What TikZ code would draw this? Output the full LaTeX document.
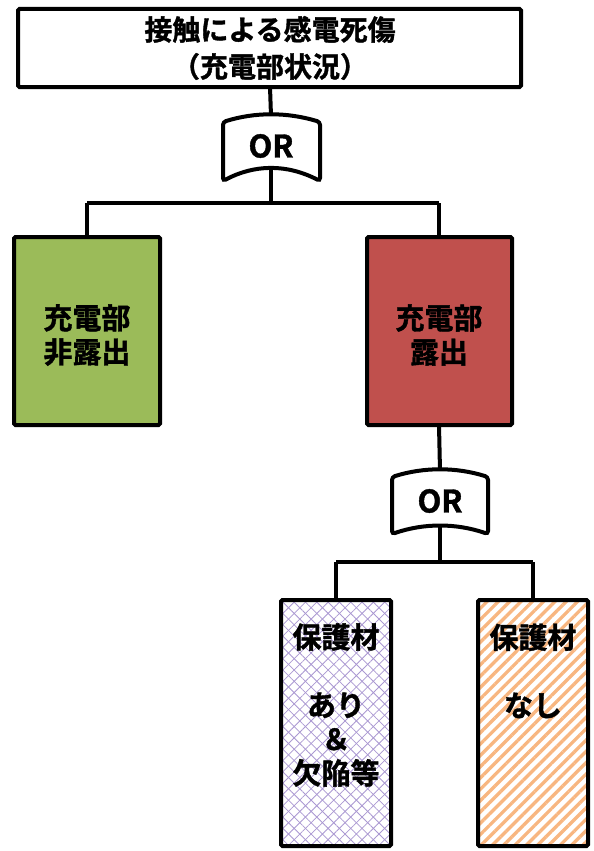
\documentclass[tikz,border=0pt]{standalone}
\usepackage{fontspec}
\newfontfamily\jp[BoldFont=* Bold, BoldFeatures={FakeBold=1.3}]{Noto Sans CJK JP}
\usetikzlibrary{patterns.meta}
\definecolor{okgreen}{RGB}{155,187,89}
\definecolor{ngred}{RGB}{192,80,77}
\definecolor{hatchpurple}{RGB}{170,152,210}
\definecolor{stripeorange}{RGB}{248,182,128}
\tikzset{
  box/.style={draw=black, line width=4pt, rounded corners=1.5pt},
  txt/.style={font=\jp\bfseries\fontsize{29}{34}\selectfont, align=center, text=black, inner sep=0pt},
  ortxt/.style={font=\jp\bfseries\fontsize{31}{31}\selectfont, text=black, inner sep=0pt},
  wire/.style={draw=black, line width=4pt, line join=round},
  gate/.style={draw=black, line width=4pt, fill=white, rounded corners=3pt},
}
\begin{document}
\begin{tikzpicture}[x=1pt,y=-1pt]
\useasboundingbox (0,0) rectangle (594,851);
% coordinates
\coordinate (topB) at (270,87);
\coordinate (g1top) at (271,116);
\coordinate (g1bot) at (271,169);
\coordinate (j1) at (271,203);
\coordinate (j1l) at (87,203);
\coordinate (j1r) at (439,203);
\coordinate (g2top) at (440,471);
\coordinate (g2bot) at (440,526);
\coordinate (j2) at (440,562);
\coordinate (j2l) at (336,562);
\coordinate (j2r) at (533,562);
% connectors
\draw[wire] (topB) -- (g1top);
\draw[wire] (g1bot) -- (j1);
\draw[wire] (j1l |- j1) -- (j1r);
\draw[wire] (j1l) -- (87,237);
\draw[wire] (j1r) -- (439,237);
\draw[wire] (439,425) -- (g2top);
\draw[wire] (g2bot) -- (j2);
\draw[wire] (j2l) -- (j2r);
\draw[wire] (j2l) -- (336,600);
\draw[wire] (j2r) -- (533,600);
% top box
\draw[box, fill=white] (18,9) rectangle (521,87);
\node[txt, font=\jp\bfseries\fontsize{28}{37}\selectfont] (top) at (270,48) {接触による感電死傷\\（充電部状況）};
% OR gate 1
\draw[gate] (223,181) -- (223,122) .. controls (255,112) and (287,112) .. (320,122) -- (320,181) .. controls (287,164) and (255,164) .. cycle;
\node[ortxt] (or1) at (271,146) {OR};
% green / red boxes
\draw[box, fill=okgreen] (14,237) rectangle (160,425);
\node[txt] (nonexp) at (87,335) {充電部\\非露出};
\draw[box, fill=ngred] (367,237) rectangle (512,425);
\node[txt] (exp) at (439,335) {充電部\\露出};
% OR gate 2
\draw[gate] (392,534) -- (392,477) .. controls (424,467) and (456,467) .. (488,477) -- (488,534) .. controls (456,523) and (424,523) .. cycle;
\node[ortxt] (or2) at (440,501) {OR};
% hatched boxes
\fill[white] (281,600) rectangle (391,846);
\fill[pattern={Lines[angle=45,distance=8pt,line width=0.8pt]}, pattern color=hatchpurple] (281,600) rectangle (391,846);
\fill[pattern={Lines[angle=-45,distance=8pt,line width=0.8pt]}, pattern color=hatchpurple] (281,600) rectangle (391,846);
\draw[box] (281,600) rectangle (391,846);
\node[txt] (with) at (336,705) {保護材\\[34pt]あり\\＆\\欠陥等};
\fill[white] (478,600) rectangle (588,846);
\fill[pattern={Lines[angle=45,distance=8pt,line width=3.3pt]}, pattern color=stripeorange] (478,600) rectangle (588,846);
\draw[box] (478,600) rectangle (588,846);
\node[txt] (without) at (533,671) {保護材\\[34pt]なし};
\end{tikzpicture}
\end{document}
